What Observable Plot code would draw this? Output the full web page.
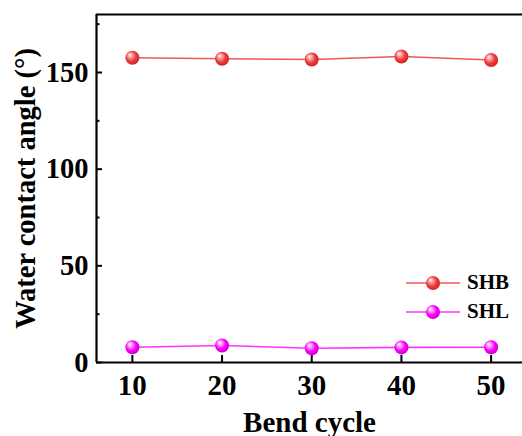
<!DOCTYPE html>
<html><head><meta charset="utf-8">
<script src="https://cdn.jsdelivr.net/npm/d3@7"></script>
<script src="https://cdn.jsdelivr.net/npm/@observablehq/plot@0.6"></script>
<style>
body{margin:0;background:#fff}
#wrap{position:relative;width:522px;height:436px;overflow:hidden}
#legend{position:absolute;left:404px;top:268px;font-family:"Liberation Serif","Times New Roman",serif;font-weight:bold;font-size:21px;color:#000}
#legend .row{display:flex;align-items:center;height:29px}
#legend svg{margin-right:5px}
</style>
</head><body><div id="wrap"><div id="legend"></div></div>
<script>
const cycles = [10, 20, 30, 40, 50];
const shb = [157.6, 157.1, 156.7, 158.3, 156.5];
const shl = [7.9, 8.8, 7.4, 7.8, 7.9];
const seriesNames = ["SHB", "SHL"];
const seriesValues = [shb, shl];
const lineColors = ["#f25656", "#ff33ff"];
const baseColors = ["#f03c3c", "#ff00ff"];
const lightColors = ["#ffb0b0", "#ffb0ff"];
const darkColors = ["#c81e1e", "#c000c0"];
const yMajor = [0, 50, 100, 150];
const yMinor = [25, 75, 125, 175];
const xTicks = [10, 20, 30, 40, 50];

const data = seriesNames.flatMap((s, i) => cycles.map((c, j) => ({series: s, cycle: c, angle: seriesValues[i][j], idx: i})));

const W = 522, H = 436, mT = 14, mB = 74, mL = 96, mR = 0;
const yDom = [0, 180], xDom = [6, 53.5];
const pxY = (H - mT - mB) / (yDom[1] - yDom[0]);
const pxX = (W - mL - mR) / (xDom[1] - xDom[0]);

const chart = Plot.plot({
  width: W, height: H,
  marginTop: mT, marginBottom: mB, marginLeft: mL, marginRight: mR,
  style: {fontFamily: "'Liberation Serif','Times New Roman',serif", fontWeight: "bold", fontSize: "28px", color: "#000", background: "#fff", overflow: "visible"},
  x: {domain: xDom},
  y: {domain: yDom},
  marks: [
    Plot.axisX(xTicks, {tickSize: 0, tickPadding: 12, label: "Bend cycle", labelAnchor: "center", labelArrow: "none", labelOffset: 69, fontSize: 29}),
    Plot.axisY(yMajor, {tickSize: 0, tickPadding: 8, label: "Water contact angle (°)", labelAnchor: "center", labelArrow: "none", labelOffset: 82, fontSize: 28.5}),
    Plot.ruleX(xTicks, {x: d => d, y1: 0, y2: 7 / pxY, strokeWidth: 2, stroke: "#000"}),
    Plot.ruleY(yMajor, {y: d => d, x1: xDom[0], x2: xDom[0] + 6 / pxX, strokeWidth: 2, stroke: "#000"}),
    Plot.ruleY(yMinor, {y: d => d, x1: xDom[0], x2: xDom[0] + 3.5 / pxX, strokeWidth: 2, stroke: "#000"}),
    Plot.ruleY([yDom[0], yDom[1]], {strokeWidth: 2.2, stroke: "#000"}),
    Plot.ruleX([xDom[0]], {strokeWidth: 2.2, stroke: "#000"}),
    Plot.line(data, {x: "cycle", y: "angle", z: "series", stroke: d => lineColors[d.idx], strokeWidth: 1.6}),
    Plot.dot(data, {x: "cycle", y: "angle", r: 7, fill: d => `url(#grad${d.idx})`, stroke: "none"})
  ]
});

const svg = d3.select(chart);
const defs = svg.insert("defs", ":first-child");
baseColors.forEach((c, i) => {
  const g = defs.append("radialGradient").attr("id", `grad${i}`).attr("cx", "45%").attr("cy", "45%").attr("r", "60%").attr("fx", "32%").attr("fy", "28%");
  g.append("stop").attr("offset", "0%").attr("stop-color", "#ffffff");
  g.append("stop").attr("offset", "22%").attr("stop-color", lightColors[i]);
  g.append("stop").attr("offset", "60%").attr("stop-color", c);
  g.append("stop").attr("offset", "100%").attr("stop-color", darkColors[i]);
});
document.getElementById("wrap").prepend(chart);

const legend = d3.select("#legend");
seriesNames.forEach((s, i) => {
  const row = legend.append("div").attr("class", "row");
  const sw = row.append("svg").attr("width", 58).attr("height", 20);
  const sd = sw.append("defs").append("radialGradient").attr("id", `lg${i}`).attr("cx", "45%").attr("cy", "45%").attr("r", "60%").attr("fx", "32%").attr("fy", "28%");
  sd.append("stop").attr("offset", "0%").attr("stop-color", "#ffffff");
  sd.append("stop").attr("offset", "22%").attr("stop-color", lightColors[i]);
  sd.append("stop").attr("offset", "60%").attr("stop-color", baseColors[i]);
  sd.append("stop").attr("offset", "100%").attr("stop-color", darkColors[i]);
  sw.append("line").attr("x1", 2).attr("x2", 56).attr("y1", 10).attr("y2", 10).attr("stroke", lineColors[i]).attr("stroke-width", 1.6);
  sw.append("circle").attr("cx", 29).attr("cy", 10).attr("r", 7).attr("fill", `url(#lg${i})`);
  row.append("span").text(s);
});
</script>
</body></html>
